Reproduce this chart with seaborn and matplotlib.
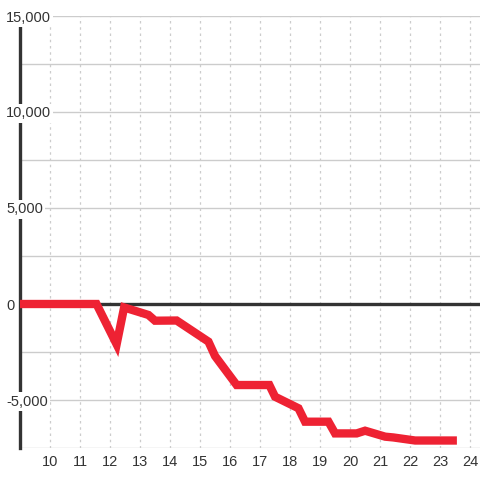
import pandas as pd
import matplotlib.pyplot as plt
import seaborn as sns
from matplotlib.ticker import FixedLocator, FuncFormatter

# data
x_vals = [9.0, 11.55, 12.22, 12.47, 13.28, 13.5, 14.22, 15.28, 15.5, 16.22,
          17.31, 17.5, 18.28, 18.5, 19.28, 19.5, 20.22, 20.5, 21.17, 21.44,
          22.17, 23.56]
y_vals = [0, 0, -2100, -180, -570, -870, -860, -1960, -2710, -4220,
          -4220, -4830, -5430, -6130, -6130, -6740, -6740, -6600, -6910, -6950,
          -7110, -7110]
y_major = [-5000, 0, 5000, 10000, 15000]
y_minor = [-7500, -2500, 2500, 7500, 12500]
x_ticks = list(range(10, 25))

df = pd.DataFrame({"x": x_vals, "y": y_vals})

sns.set_style("white")
plt.rcParams['font.family'] = ['Liberation Sans', 'DejaVu Sans']

fig = plt.figure(figsize=(4.8, 4.8), dpi=100)
ax = fig.add_axes([20 / 480, 1 - 448 / 480, 460 / 480, 432 / 480])

# grid
for v in y_major + y_minor:
    if v != 0:
        ax.axhline(v, color="#cccccc", lw=1, zorder=1)
for t in x_ticks:
    ax.axvline(t, color="#cccccc", lw=0.9, ls=(0, (2, 3)), zorder=1)
ax.axhline(0, color="#333333", lw=2.4, zorder=2)

sns.lineplot(data=df, x="x", y="y", ax=ax, color="#ee2233", lw=6,
             solid_capstyle="butt", solid_joinstyle="miter", zorder=3)

ax.set_xlim(9, 24.33)
ax.set_ylim(-7500, 15000)
ax.set_xlabel("")
ax.set_ylabel("")

for s in ["top", "right", "bottom"]:
    ax.spines[s].set_visible(False)
ax.spines["left"].set_color("#333333")
ax.spines["left"].set_linewidth(2.4)
ax.spines["left"].set_zorder(2)

ax.xaxis.set_major_locator(FixedLocator(x_ticks))
ax.yaxis.set_major_locator(FixedLocator(y_major))
ax.yaxis.set_major_formatter(FuncFormatter(lambda v, p: f"{int(v):,}".replace("-", "-")))
ax.tick_params(axis="x", length=0, pad=5, labelsize=10.5, labelcolor="#333333")
ax.tick_params(axis="y", length=0, pad=10, labelsize=10.5, labelcolor="#333333")
for lab in ax.get_yticklabels():
    lab.set_horizontalalignment("left")
    lab.set_bbox(dict(facecolor="white", edgecolor="none", pad=1.5))
    lab.set_zorder(5)
ax.yaxis.set_zorder(5)

fig.savefig("out.png", dpi=100, facecolor="white")
